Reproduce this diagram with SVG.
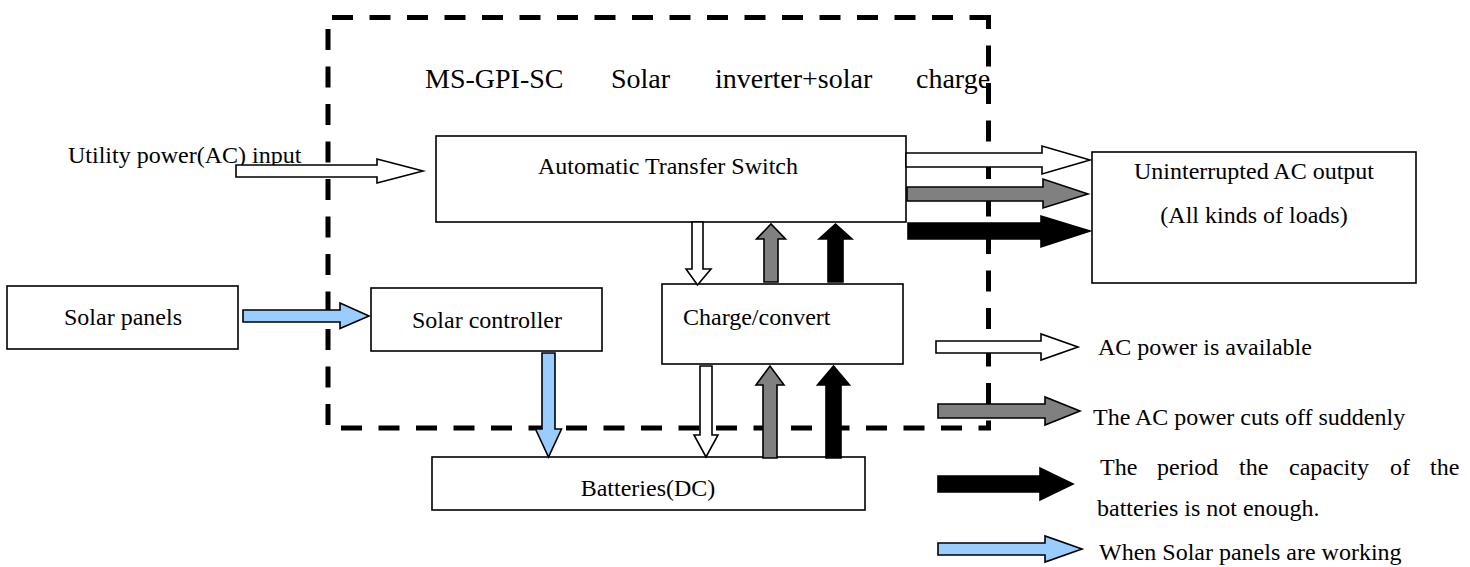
<svg xmlns="http://www.w3.org/2000/svg" width="1470" height="567" viewBox="0 0 1470 567">
<style>
  text { font-family: "Liberation Serif", "Times New Roman", serif; font-size: 24px; fill: #000; }
  .box { fill: #fff; stroke: #000; stroke-width: 1.6; }
  .frame { fill: none; stroke: #000; stroke-width: 5; stroke-dasharray: 21 16.5; }
  .aw { fill: #fff; stroke: #000; stroke-width: 1.6; stroke-linejoin: miter; }
  .ag { fill: #808080; stroke: #000; stroke-width: 1.6; }
  .ab { fill: #000; stroke: #000; stroke-width: 1.6; }
  .al { fill: #99ccff; stroke: #000; stroke-width: 1.6; }
</style>

<g id="frame">
  <line class="frame" x1="332" y1="17.5" x2="991" y2="17.5"/>
  <line class="frame" x1="988.5" y1="15" x2="988.5" y2="430" stroke-dashoffset="7"/>
  <line class="frame" x1="328" y1="29" x2="328" y2="430"/>
  <line class="frame" x1="326" y1="428" x2="991" y2="428" stroke-dashoffset="22.5"/>
  <text x="425" y="88" style="font-size:28px">MS-GPI-SC</text>
  <text x="611" y="88" style="font-size:28px">Solar</text>
  <text x="715" y="88" style="font-size:28px">inverter+solar</text>
  <text x="916" y="88" style="font-size:28px">charge</text>
</g>

<g id="ats">
  <rect class="box" x="436" y="136" width="470" height="86"/>
  <text x="668" y="174" text-anchor="middle">Automatic Transfer Switch</text>
</g>

<g id="output">
  <rect class="box" x="1092" y="152" width="324" height="131"/>
  <text x="1254" y="179" text-anchor="middle">Uninterrupted AC output</text>
  <text x="1254" y="223" text-anchor="middle">(All kinds of loads)</text>
</g>

<g id="solar-panels">
  <rect class="box" x="7" y="286" width="231" height="63"/>
  <text x="123" y="325" text-anchor="middle">Solar panels</text>
</g>

<g id="solar-controller">
  <rect class="box" x="371" y="288" width="231" height="63"/>
  <text x="487" y="328" text-anchor="middle">Solar controller</text>
</g>

<g id="charge-convert">
  <rect class="box" x="662" y="284" width="241" height="80"/>
  <text x="683" y="325">Charge/convert</text>
</g>

<g id="batteries">
  <rect class="box" x="432" y="457" width="433" height="53"/>
  <text x="648" y="496" text-anchor="middle">Batteries(DC)</text>
</g>

<g id="utility-label">
  <text x="68" y="163">Utility power(AC) input</text>
</g>

<g id="connectors">
  <polygon class="aw" points="236,165 377,165 377,159 423,171 377,183 377,177 236,177"/>
  <polygon class="aw" points="906,153 1042,153 1042,146 1090,160 1042,174 1042,167 906,167"/>
  <polygon class="ag" points="907,187 1043,187 1043,179 1088,194 1043,208 1043,201 907,201"/>
  <polygon class="ab" points="908,223 1041,223 1041,216 1090,231 1041,247 1041,239 908,239"/>
  <polygon class="aw" points="692,222 703,222 703,269 711,269 697.5,285 686,269 692,269"/>
  <polygon class="ag" points="764,282 778,282 778,239 785.5,239 771,224 756.5,239 764,239"/>
  <polygon class="ab" points="828,282 843,282 843,239 852,239 835.5,224 819,239 828,239"/>
  <polygon class="al" points="243,310 340,310 340,303 369,316 340,328.5 340,322 243,322"/>
  <polygon class="al" points="542,353 555,353 555,429 561.5,429 548.5,457 535.5,429 542,429"/>
  <polygon class="aw" points="700,366 712,366 712,435 718,435 706,457 694,435 700,435"/>
  <polygon class="ag" points="763,458 777,458 777,385 784,385 770,366 756,385 763,385"/>
  <polygon class="ab" points="826,458 841,458 841,385 849.5,385 833.5,366 817.5,385 826,385"/>
</g>

<g id="legend">
  <polygon class="aw" points="936,341 1041,341 1041,334 1078,347 1041,360 1041,353 936,353"/>
  <text x="1098" y="355">AC power is available</text>
  <polygon class="ag" points="938,404 1045,404 1045,397 1080,411 1045,425 1045,418 938,418"/>
  <text x="1093" y="425">The AC power cuts off suddenly</text>
  <polygon class="ab" points="938,476 1040,476 1040,468 1073,484 1040,500 1040,492 938,492"/>
  <text y="475"><tspan x="1100">The</tspan><tspan x="1157">period</tspan><tspan x="1239">the</tspan><tspan x="1289">capacity</tspan><tspan x="1390">of</tspan><tspan x="1430">the</tspan></text>
  <text x="1097" y="516">batteries is not enough.</text>
  <polygon class="al" points="938,543 1045,543 1045,536 1082,549 1045,562 1045,555 938,555"/>
  <text x="1099" y="560">When Solar panels are working</text>
</g>
</svg>
